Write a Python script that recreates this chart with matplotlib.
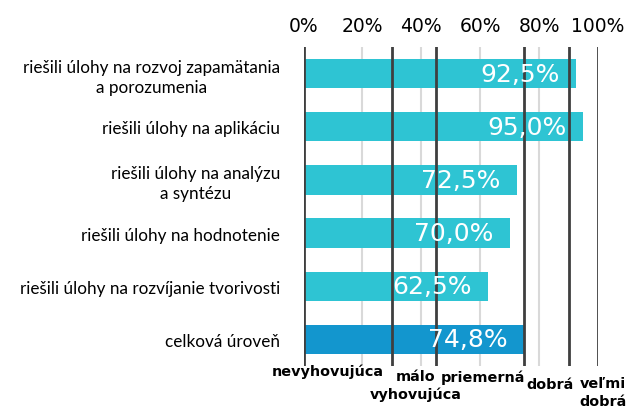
import matplotlib.pyplot as plt
from matplotlib.transforms import blended_transform_factory

# data
categories = [
    "riešili úlohy na rozvoj zapamätania\na porozumenia",
    "riešili úlohy na aplikáciu",
    "riešili úlohy na analýzu\na syntézu",
    "riešili úlohy na hodnotenie",
    "riešili úlohy na rozvíjanie tvorivosti",
    "celková úroveň",
]
values = [92.5, 95.0, 72.5, 70.0, 62.5, 74.8]
value_labels = ["92,5%", "95,0%", "72,5%", "70,0%", "62,5%", "74,8%"]
bar_colors = ["#2ec4d3"] * 5 + ["#1396ce"]

# grading scale boundaries and labels
thresholds = [0, 30, 45, 75, 90, 100]
grade_labels = ["nevyhovujúca", "málo\nvyhovujúca", "priemerná", "dobrá", "veľmi\ndobrá"]
grade_x = [8.3, 38.2, 60.8, 83.7, 101.7]
grade_y = [0.093, 0.080, 0.078, 0.061, 0.063]

xticks = [0, 20, 40, 60, 80, 100]

fig = plt.figure(figsize=(6.27, 4.10), dpi=100)
ax = fig.add_axes([303.5 / 627, 1 - 367 / 410, 294.5 / 627, 319 / 410])

y = list(range(len(categories)))
for gx in [20, 40, 60, 80]:
    ax.axvline(gx, color="#d9d9d9", lw=1.5, zorder=0)

ax.barh(y, values, height=0.55, color=bar_colors, zorder=2)

for t in thresholds:
    ax.axvline(t, color="#3f3f3f", lw=2, zorder=3)

for yi, v, lab in zip(y, values, value_labels):
    ax.text(v - 5.5, yi, lab, ha="right", va="center", color="white",
            fontsize=18, zorder=4)

ax.set_xlim(0, 100)
ax.set_ylim(len(categories) - 0.5, -0.5)
ax.xaxis.tick_top()
ax.set_xticks(xticks)
ax.set_xticklabels([f"{v}%" for v in xticks], fontsize=13.5)
ax.set_yticks(y)
ax.set_yticklabels(categories, fontsize=12.3, family="Lato",
                   multialignment="center", linespacing=1.3)
ax.tick_params(axis="both", length=0)
ax.tick_params(axis="x", pad=9)
ax.tick_params(axis="y", pad=17)
for s in ax.spines.values():
    s.set_visible(False)

# grade names under the scale, one text per line
trans = blended_transform_factory(ax.transData, fig.transFigure)
for gx, gy, lab in zip(grade_x, grade_y, grade_labels):
    for i, line in enumerate(lab.split("\n")):
        ax.text(gx, gy - i * 0.044, line, transform=trans, ha="center", va="center",
                fontsize=10.4, fontweight="bold", clip_on=False)

fig.savefig("out.png", dpi=100)
